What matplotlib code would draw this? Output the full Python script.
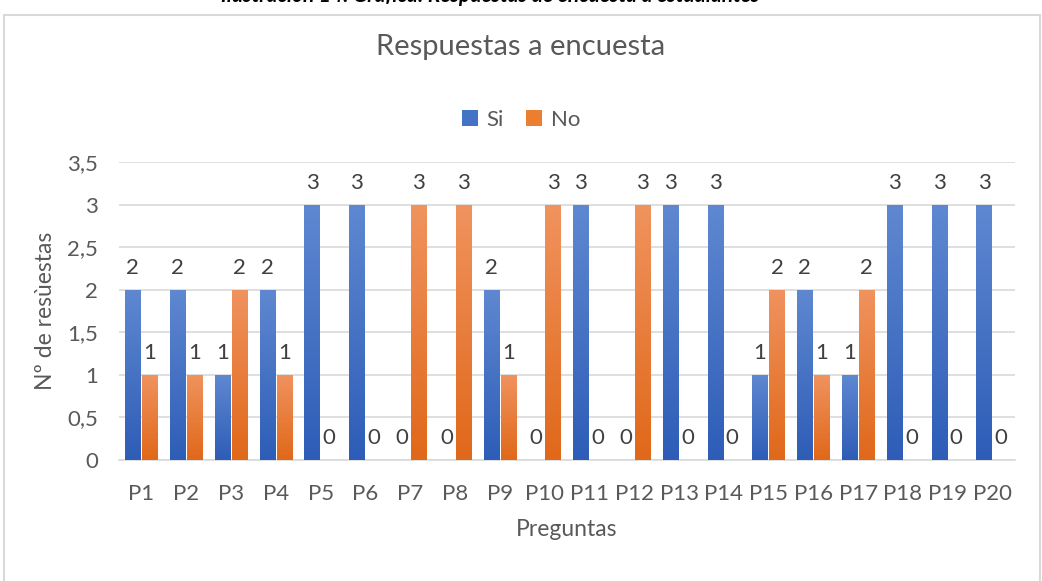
import numpy as np
import matplotlib.pyplot as plt
from matplotlib.patches import Rectangle
from matplotlib.colors import LinearSegmentedColormap

preguntas = ['P%d' % i for i in range(1, 21)]
si = [2, 2, 1, 2, 3, 3, 0, 0, 2, 0, 3, 0, 3, 3, 1, 2, 1, 3, 3, 3]
no = [1, 1, 2, 1, 0, 0, 3, 3, 1, 3, 0, 3, 0, 0, 2, 1, 2, 0, 0, 0]
yticks = [0, 0.5, 1, 1.5, 2, 2.5, 3, 3.5]

plt.rcParams['font.family'] = ['Lato', 'DejaVu Sans']
gris = '#595959'

fig = plt.figure(figsize=(10.42, 5.81), dpi=100)
ax = fig.add_axes([119 / 1042, 1 - 460 / 581, 896 / 1042, 298 / 581])

# marco del grafico (cortado arriba)
fig.patches.append(Rectangle((4 / 1042, -0.01), 1036 / 1042, 1 - 15 / 581 + 0.01,
                             transform=fig.transFigure, fill=False,
                             edgecolor='#d9d9d9', linewidth=1.5))
# pie de ilustracion, casi todo fuera de la imagen como en el original
fig.text(0.47, 1 - 1.5 / 581, 'Ilustración 14: Gráfica: Respuestas de encuesta a estudiantes',
         ha='center', va='baseline', fontsize=15, style='italic', fontweight='bold', color='black')

x = np.arange(len(preguntas))
w = 0.34
b1 = ax.bar(x - w / 2 - 0.02, si, w, color='#4472C4', label='Si', zorder=3)
b2 = ax.bar(x + w / 2 + 0.02, no, w, color='#ED7D31', label='No', zorder=3)

# degradado vertical en las barras
cm_si = LinearSegmentedColormap.from_list('si', ['#2E5DB7', '#5F88D1'])
cm_no = LinearSegmentedColormap.from_list('no', ['#E0681A', '#F0935E'])
grad = np.linspace(0, 1, 100).reshape(-1, 1)
for bars, cm in ((b1, cm_si), (b2, cm_no)):
    for r in bars:
        if r.get_height() == 0:
            continue
        x0, y0 = r.get_x(), r.get_y()
        im = ax.imshow(grad, cmap=cm, origin='lower', aspect='auto', zorder=3.5,
                       extent=(x0, x0 + r.get_width(), y0, y0 + r.get_height()))
        im.set_clip_path(r)

for bars, vals in ((b1, si), (b2, no)):
    for r, v in zip(bars, vals):
        ax.text(r.get_x() + r.get_width() / 2, v + 0.14, str(v), ha='center', va='bottom',
                fontsize=16, color='#404040', zorder=5)

ax.set_xlim(-0.5, len(preguntas) - 0.5)
ax.set_ylim(0, 3.5)
ax.set_yticks(yticks)
ax.set_yticklabels([('%g' % t).replace('.', ',') for t in yticks])
ax.set_xticks(x)
ax.set_xticklabels(preguntas)
ax.tick_params(length=0, labelsize=16, colors=gris)
ax.tick_params(axis='x', pad=17)
ax.tick_params(axis='y', pad=15)
ax.grid(axis='y', color='#d9d9d9', linewidth=1.2, zorder=0)
for s in ['top', 'right', 'left']:
    ax.spines[s].set_visible(False)
ax.spines['bottom'].set_color('#d9d9d9')
ax.spines['bottom'].set_linewidth(1.2)

ax.set_xlabel('Preguntas', fontsize=16.5, color=gris, labelpad=11)
ax.set_ylabel('Nº de resùestas', fontsize=16.5, color=gris, labelpad=8)

fig.text(0.5, 1 - 47 / 581, 'Respuestas a encuesta', ha='center', va='center',
         fontsize=21, color=gris)
fig.legend(loc='center', bbox_to_anchor=(0.5, 1 - 120 / 581), ncol=2, frameon=False,
           fontsize=16, labelcolor=gris, handlelength=0.7, handleheight=0.7,
           columnspacing=1.0, handletextpad=0.4)

fig.savefig('out.png', dpi=100)
